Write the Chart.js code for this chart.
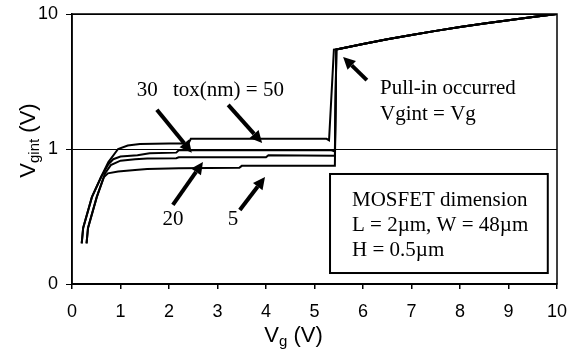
<!DOCTYPE html>
<html>
<head>
<meta charset="utf-8">
<script src="https://cdn.jsdelivr.net/npm/chart.js@4.4.1/dist/chart.umd.min.js"></script>
<style>
  html, body { margin: 0; padding: 0; background: #fff; }
  #wrap { width: 576px; height: 351px; }
</style>
</head>
<body>
<div id="wrap"><canvas id="vgintChart" width="576" height="351"></canvas></div>
<script>
// axis ticks
const vgTicks = [0, 1, 2, 3, 4, 5, 6, 7, 8, 9, 10];
const vgintTicks = [0.1, 1, 10];
const vgintTickLabels = ['0', '1', '10'];

// tox = 50 nm
const vg50 =    [0.2, 0.23, 0.41, 0.6, 0.75, 0.95, 1.15, 1.4, 2.0, 2.4, 2.45, 5.25, 5.3, 5.4];
const vgint50 = [0.2, 0.26, 0.44, 0.62, 0.8, 1.0, 1.06, 1.09, 1.1, 1.1, 1.19, 1.19, 1.16, 5.45];
// tox = 30 nm
const vg30 =    [0.2, 0.23, 0.41, 0.6, 0.75, 0.85, 1.0, 1.35, 1.6, 2.15, 2.2, 5.35, 5.42, 5.45];
const vgint30 = [0.2, 0.26, 0.44, 0.62, 0.77, 0.84, 0.88, 0.9, 0.93, 0.94, 0.98, 0.98, 0.96, 5.45];
// tox = 20 nm
const vg20 =    [0.3, 0.33, 0.51, 0.68, 0.8, 1.0, 1.3, 1.55, 2.15, 2.2, 4.0, 4.05, 5.42, 5.45];
const vgint20 = [0.2, 0.26, 0.44, 0.66, 0.76, 0.82, 0.84, 0.85, 0.855, 0.868, 0.868, 0.9, 0.89, 5.45];
// tox = 5 nm
const vg5 =    [0.3, 0.33, 0.51, 0.66, 0.74, 0.95, 1.3, 1.55, 2.2, 3.45, 3.5, 5.42, 5.45];
const vgint5 = [0.2, 0.26, 0.44, 0.62, 0.66, 0.68, 0.7, 0.71, 0.72, 0.725, 0.75, 0.75, 5.45];
// after pull-in all curves sit on Vgint = Vg
const vgPull =    [5.5, 6, 6.5, 7, 7.5, 8, 8.5, 9, 9.5, 10];
const vgintPull = [5.5, 6, 6.5, 7, 7.5, 8, 8.5, 9, 9.5, 10];

// annotations (in data units)
const arrows = [
    [1.75, 1.95, 2.47, 0.94],   // 30
    [3.22, 2.12, 3.92, 1.11],   // 50
    [2.08, 0.385, 2.70, 0.80],  // 20
    [3.46, 0.353, 3.98, 0.62],  // 5
    [6.08, 3.24, 5.59, 4.8]     // pull-in
];
const notes = [
    { text: '30', vg: 1.55, vgint: 2.73, align: 'center' },
    { text: 'tox(nm) = 50', vg: 2.08, vgint: 2.73, align: 'left' },
    { text: '20', vg: 2.08, vgint: 0.298, align: 'center' },
    { text: '5', vg: 3.32, vgint: 0.298, align: 'center' },
    { text: 'Pull-in occurred', vg: 6.35, vgint: 2.83, align: 'left' },
    { text: 'Vgint = Vg', vg: 6.35, vgint: 1.79, align: 'left' }
];
const boxLines = ['MOSFET dimension', 'L = 2\u00b5m, W = 48\u00b5m', 'H = 0.5\u00b5m'];
const boxCorners = [5.32, 0.653, 9.81, 0.1206];

function toPoints(xs, ys) {
    return xs.map((x, i) => ({ x: x, y: ys[i] }))
        .concat(vgPull.map((x, i) => ({ x: x, y: vgintPull[i] })));
}

function curve(label, xs, ys) {
    return {
        label: label,
        data: toPoints(xs, ys),
        borderColor: '#000',
        borderWidth: 2,
        pointRadius: 0,
        tension: 0,
        fill: false
    };
}

const serif = '"Liberation Serif", "Times New Roman", serif';
const sans = '"Liberation Sans", Arial, sans-serif';

function drawArrow(ctx, x1, y1, x2, y2) {
    const a = Math.atan2(y2 - y1, x2 - x1);
    const hl = 12, hw = 6;
    const bx = x2 - hl * Math.cos(a), by = y2 - hl * Math.sin(a);
    ctx.lineWidth = 4;
    ctx.beginPath();
    ctx.moveTo(x1, y1);
    ctx.lineTo(bx, by);
    ctx.stroke();
    ctx.beginPath();
    ctx.moveTo(x2, y2);
    ctx.lineTo(bx - hw * Math.sin(a), by + hw * Math.cos(a));
    ctx.lineTo(bx + hw * Math.sin(a), by - hw * Math.cos(a));
    ctx.closePath();
    ctx.fill();
}

function noOverflow(axis) {
    axis.paddingTop = 0;
    axis.paddingBottom = 0;
    axis.paddingLeft = 0;
    axis.paddingRight = 0;
}

const decorations = {
    id: 'decorations',
    afterDraw(chart) {
        const ctx = chart.ctx;
        const a = chart.chartArea;
        const xs = chart.scales.x, ys = chart.scales.y;
        ctx.save();
        ctx.strokeStyle = '#000';
        ctx.fillStyle = '#000';

        // plot frame
        ctx.lineWidth = 1.5;
        ctx.strokeRect(a.left, a.top, a.right - a.left, a.bottom - a.top);

        // arrows
        arrows.forEach(r => drawArrow(ctx, xs.getPixelForValue(r[0]), ys.getPixelForValue(r[1]),
            xs.getPixelForValue(r[2]), ys.getPixelForValue(r[3])));

        // notes
        ctx.font = '21px ' + serif;
        ctx.textBaseline = 'middle';
        notes.forEach(n => {
            ctx.textAlign = n.align;
            ctx.fillText(n.text, xs.getPixelForValue(n.vg), ys.getPixelForValue(n.vgint));
        });

        // dimension box
        const bx1 = xs.getPixelForValue(boxCorners[0]), by1 = ys.getPixelForValue(boxCorners[1]);
        const bx2 = xs.getPixelForValue(boxCorners[2]), by2 = ys.getPixelForValue(boxCorners[3]);
        ctx.fillStyle = '#fff';
        ctx.fillRect(bx1, by1, bx2 - bx1, by2 - by1);
        ctx.lineWidth = 2;
        ctx.strokeRect(bx1, by1, bx2 - bx1, by2 - by1);
        ctx.fillStyle = '#000';
        ctx.textAlign = 'left';
        boxLines.forEach((t, i) => ctx.fillText(t, bx1 + 22, by1 + 26 + i * 25));

        // x title: Vg (V)
        ctx.textBaseline = 'alphabetic';
        ctx.font = '22px ' + sans;
        const w1 = ctx.measureText('V').width;
        const w3 = ctx.measureText(' (V)').width;
        ctx.font = '15px ' + sans;
        const w2 = ctx.measureText('g').width;
        let x = 293.5 - (w1 + w2 + w3) / 2;
        const base = 342;
        ctx.font = '22px ' + sans;
        ctx.fillText('V', x, base);
        ctx.font = '15px ' + sans;
        ctx.fillText('g', x + w1, base + 4);
        ctx.font = '22px ' + sans;
        ctx.fillText(' (V)', x + w1 + w2, base);

        // y title: Vgint (V)
        ctx.save();
        ctx.translate(35, 140.5);
        ctx.rotate(-Math.PI / 2);
        ctx.font = '22px ' + sans;
        const v1 = ctx.measureText('V').width;
        const v3 = ctx.measureText(' (V)').width;
        ctx.font = '15px ' + sans;
        const v2 = ctx.measureText('gint').width;
        x = -(v1 + v2 + v3) / 2;
        ctx.font = '22px ' + sans;
        ctx.fillText('V', x, 0);
        ctx.font = '15px ' + sans;
        ctx.fillText('gint', x + v1, 4);
        ctx.font = '22px ' + sans;
        ctx.fillText(' (V)', x + v1 + v2, 0);
        ctx.restore();

        ctx.restore();
    }
};

window.onload = function () {
    const ctx = document.getElementById('vgintChart').getContext('2d');
    new Chart(ctx, {
        type: 'line',
        data: {
            datasets: [
                curve('50', vg50, vgint50),
                curve('30', vg30, vgint30),
                curve('20', vg20, vgint20),
                curve('5', vg5, vgint5)
            ]
        },
        options: {
            responsive: false,
            animation: false,
            devicePixelRatio: 1,
            layout: { padding: { top: 14, right: 19, left: 0, bottom: 0 } },
            plugins: {
                legend: { display: false },
                tooltip: { enabled: false }
            },
            scales: {
                x: {
                    type: 'linear',
                    min: 0,
                    max: 10,
                    afterBuildTicks: axis => { axis.ticks = vgTicks.map(v => ({ value: v })); },
                    afterFit: axis => { axis.height = 67; noOverflow(axis); },
                    ticks: {
                        color: '#000',
                        font: { family: sans, size: 18 },
                        padding: 12,
                        maxRotation: 0,
                        autoSkip: false
                    },
                    grid: {
                        drawOnChartArea: false,
                        drawTicks: true,
                        tickLength: 5,
                        tickColor: '#000',
                        lineWidth: 1.5
                    },
                    border: { color: '#000', width: 1.5 }
                },
                y: {
                    type: 'logarithmic',
                    min: 0.1,
                    max: 10,
                    afterBuildTicks: axis => { axis.ticks = vgintTicks.map(v => ({ value: v })); },
                    afterFit: axis => { axis.width = 72; noOverflow(axis); },
                    ticks: {
                        color: '#000',
                        font: { family: sans, size: 18 },
                        padding: 8,
                        callback: (value, index) => vgintTickLabels[index]
                    },
                    grid: {
                        color: '#000',
                        lineWidth: 1,
                        tickLength: 6,
                        tickColor: '#000'
                    },
                    border: { color: '#000', width: 1.5 }
                }
            }
        },
        plugins: [decorations]
    });
};
</script>
</body>
</html>
